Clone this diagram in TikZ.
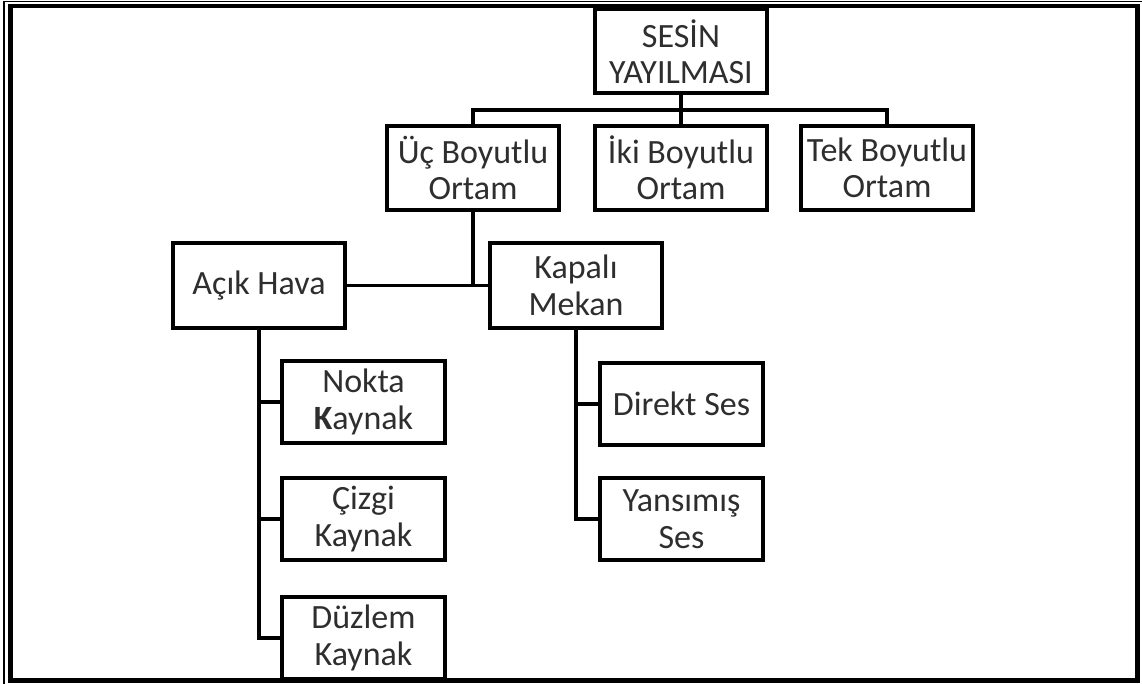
\documentclass[tikz,border=0pt]{standalone}
\usepackage{fontspec}
\setmainfont{Carlito}
\usepackage{tikz}
\usepackage{xcolor}
\colorlet{metin}{black!82}

\begin{document}
\begin{tikzpicture}[x=1pt, y=-1pt,
	kutu/.style={draw=black, line width=4, fill=white, align=center, inner sep=0pt,
		text=metin, font=\fontsize{34}{36.5}\selectfont, line join=miter},
	genis/.style={kutu, minimum width=172, minimum height=84},
	dar/.style={kutu, minimum width=163, minimum height=82},
	hat/.style={line width=3.6, line join=miter}]
	
	\useasboundingbox (0,0) rectangle (1142,684);
	
	% Çerçeve
	\draw[line width=1.3] (4,684) -- (4,1.5) -- (1142,1.5);
	\draw[line width=4.5] (10.5,6) rectangle (1137.5,680.5);
	
	% Kutular
	\node[genis] (ses) at (681,51.5) {SESİN\\YAYILMASI};
	\node[genis] (uc) at (473,168) {Üç Boyutlu\\Ortam};
	\node[genis] (iki) at (681,168) {İki Boyutlu\\Ortam};
	\node[genis] (tek) at (887,168) {Tek Boyutlu\\Ortam};
	\node[genis] (acik) at (259,285.5) {Açık Hava};
	\node[genis] (kapali) at (576,285.5) {Kapalı\\Mekan};
	\node[dar] (nokta) at (363.5,402) {Nokta\\\textbf{K}aynak};
	\node[dar] (cizgi) at (363.5,519) {Çizgi\\Kaynak};
	\node[dar] (duzlem) at (363.5,638) {Düzlem\\Kaynak};
	\node[dar] (direkt) at (681.5,404) {Direkt Ses};
	\node[dar] (yansimis) at (681.5,519) {Yansımış\\Ses};
	
	% Bağlantılar
	\coordinate (bus) at (681,110);
	\draw[hat] (ses.south) -- (iki.north);
	\draw[hat] (uc.north) |- (bus) -| (tek.north);
	\draw[hat] (uc.south) |- (kapali.west);
	\draw[hat] (acik.east) -- (kapali.west);
	\foreach \alt in {nokta,cizgi,duzlem} {
		\draw[hat] (acik.south) |- (\alt.west);
	}
	\foreach \alt in {direkt,yansimis} {
		\draw[hat] (kapali.south) |- (\alt.west);
	}
	
\end{tikzpicture}
\end{document}
